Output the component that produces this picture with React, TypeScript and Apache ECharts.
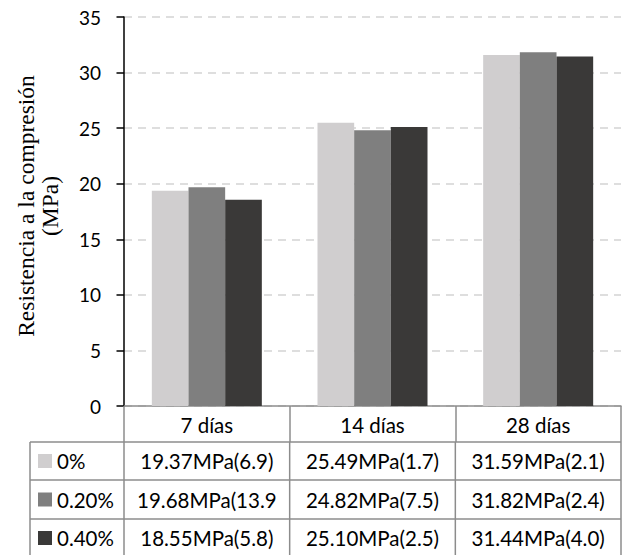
import React, { useEffect, useRef } from "react";
import * as echarts from "echarts";

// ---------- data ----------
const categories = ["7 días", "14 días", "28 días"];
const seriesNames = ["0%", "0.20%", "0.40%"];
const values0 = [19.37, 25.49, 31.59];
const values20 = [19.68, 24.82, 31.82];
const values40 = [18.55, 25.1, 31.44];
// data-table texts as shown (the 0.20% / 7 días cell is clipped in the original)
const table0 = ["19.37MPa(6.9)", "25.49MPa(1.7)", "31.59MPa(2.1)"];
const table20 = ["19.68MPa(13.9", "24.82MPa(7.5)", "31.82MPa(2.4)"];
const table40 = ["18.55MPa(5.8)", "25.10MPa(2.5)", "31.44MPa(4.0)"];
const yMin = 0;
const yMax = 35;
const yInterval = 5;
const yAxisTitle = "Resistencia a la compresión\n(MPa)";

// ---------- styles / layout ----------
const W = 624;
const H = 555;
const GL = 124;
const GR = 621;
const GT = 17;
const GB = 406;
const ROWS = [406, 442, 480, 519, 557];
const TABLE_LEFT = 30;
const COLORS = ["#d0cecf", "#7f7f7f", "#3a3938"];
const BORDER = "#8c8c8c";
const SANS = "Lato";
const SERIF = "Liberation Serif";

export default function App() {
  const ref = useRef<HTMLDivElement>(null);

  useEffect(() => {
    if (!ref.current) return;
    const chart = echarts.init(ref.current, undefined, { renderer: "svg" });

    const seriesValues = [values0, values20, values40];
    const tableRows = [table0, table20, table40];
    const cw = (GR - GL) / categories.length;
    const colX = categories.map((_, i) => GL + i * cw).concat([GR]);

    const lineStyle = { stroke: BORDER, lineWidth: 1.5 };
    const elements: any[] = [];

    // horizontal table lines
    for (let r = 1; r < ROWS.length - 1; r++) {
      elements.push({
        type: "line",
        silent: true,
        shape: { x1: TABLE_LEFT, y1: ROWS[r], x2: GR, y2: ROWS[r] },
        style: lineStyle,
      });
    }
    // vertical table lines (below header row)
    [TABLE_LEFT, ...colX].forEach((x) => {
      elements.push({
        type: "line",
        silent: true,
        shape: { x1: x, y1: ROWS[1], x2: x, y2: H },
        style: lineStyle,
      });
    });

    // legend keys + cell texts
    seriesNames.forEach((name, s) => {
      const yc = (ROWS[s + 1] + ROWS[s + 2]) / 2;
      elements.push({
        type: "rect",
        silent: true,
        shape: { x: 38, y: yc - 7, width: 14, height: 14 },
        style: { fill: COLORS[s] },
      });
      elements.push({
        type: "text",
        silent: true,
        x: 57,
        y: yc,
        style: {
          text: name,
          fontFamily: SANS,
          fontSize: 20.5,
          fill: "#000",
          align: "left",
          verticalAlign: "middle",
        },
      });
      tableRows[s].forEach((t, i) => {
        elements.push({
          type: "text",
          silent: true,
          x: GL + (i + 0.5) * cw,
          y: yc,
          style: {
            text: t,
            fontFamily: SANS,
            fontSize: 20.5,
            fill: "#000",
            align: "center",
            verticalAlign: "middle",
          },
        });
      });
    });

    // y axis title
    elements.push({
      type: "text",
      silent: true,
      x: 38,
      y: 206,
      rotation: Math.PI / 2,
      style: {
        text: yAxisTitle,
        fontFamily: SERIF,
        fontSize: 23.5,
        lineHeight: 24,
        fill: "#000",
        align: "center",
        verticalAlign: "middle",
      },
    });

    const option: any = {
      animation: false,
      backgroundColor: "#ffffff",
      grid: { left: GL, right: W - GR, top: GT, bottom: H - GB, containLabel: false },
      xAxis: {
        type: "category",
        data: categories,
        axisLine: { show: true, lineStyle: { color: BORDER, width: 1.5 } },
        axisTick: { show: true, interval: 0, length: ROWS[1] - ROWS[0], lineStyle: { color: BORDER, width: 1.5 } },
        axisLabel: { interval: 0, fontFamily: SANS, fontSize: 20.5, color: "#000", margin: 8 },
        splitLine: { show: false },
      },
      yAxis: {
        type: "value",
        min: yMin,
        max: yMax,
        interval: yInterval,
        axisLine: { show: true, lineStyle: { color: "#000", width: 1.5 } },
        axisTick: { show: true, length: 7.5, lineStyle: { color: "#000", width: 1.5 } },
        axisLabel: { fontFamily: SANS, fontSize: 19, color: "#000", margin: 23 },
        splitLine: { show: true, lineStyle: { color: "#d3d3d3", width: 1.5, type: [8, 6] } },
      },
      series: seriesNames.map((name, s) => ({
        type: "bar",
        name,
        data: seriesValues[s],
        barGap: "0%",
        barCategoryGap: "33.6%",
        itemStyle: { color: COLORS[s] },
      })),
      graphic: elements,
    };

    chart.setOption(option);
    return () => chart.dispose();
  }, []);

  return (
    <div
      ref={ref}
      style={{ position: "fixed", left: 0, top: 0, width: W, height: H, background: "#fff" }}
    />
  );
}
